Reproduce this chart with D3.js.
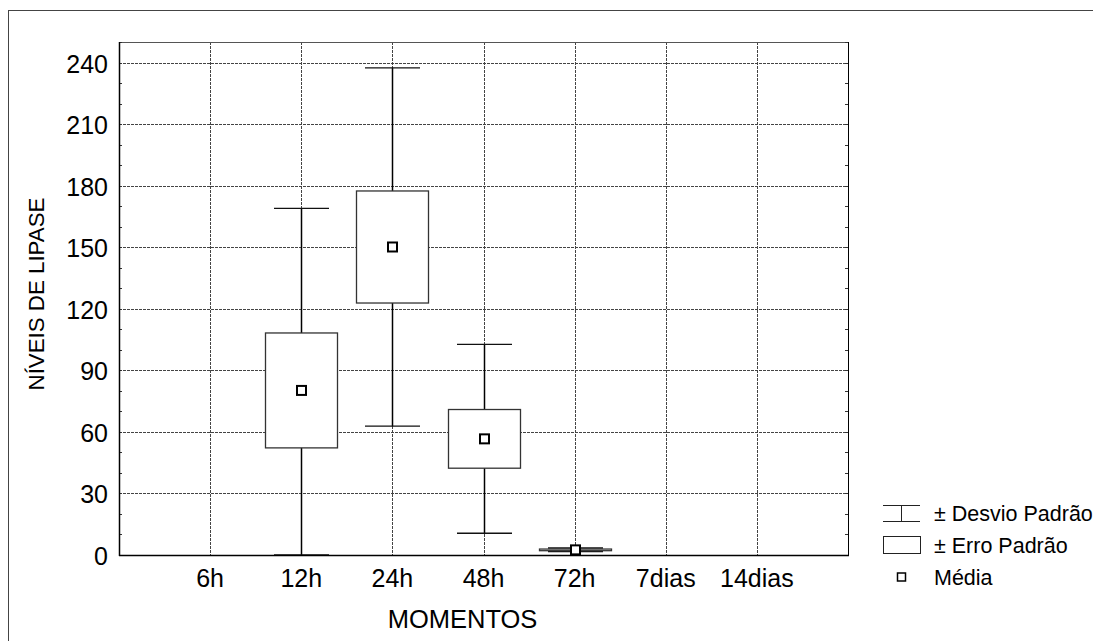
<!DOCTYPE html>
<html>
<head>
<meta charset="utf-8">
<script src="https://cdn.jsdelivr.net/npm/d3@7"></script>
<style>
  html, body { margin: 0; padding: 0; background: #fff; }
  svg { display: block; font-family: "Liberation Sans", Arial, sans-serif; }
</style>
</head>
<body>
<svg id="chart" width="1093" height="641"></svg>
<script>
// ---- data ----
const categories = ["6h", "12h", "24h", "48h", "72h", "7dias", "14dias"];
const means  = [null, 80.2, 150.1, 56.6, 2.5, null, null];
const stdErr = [null, 28.0, 27.3, 14.3, 0.4, null, null];
const stdDev = [null, 88.7, 87.3, 46.0, 0.9, null, null];
const yTicks = [0, 30, 60, 90, 120, 150, 180, 210, 240];
const yMinorTicks = d3.range(0, 251, 10);
const legendLabels = ["± Desvio Padrão", "± Erro Padrão", "Média"];
const xTitle = "MOMENTOS";
const yTitle = "NÍVEIS DE LIPASE";

// ---- layout ----
const svg = d3.select("#chart");
const plot = { left: 119, right: 848, top: 42, bottom: 555 };

const x = d3.scalePoint().domain(categories).range([plot.left, plot.right]).padding(1);
const y = d3.scaleLinear().domain([0, 250]).range([plot.bottom, plot.top]).clamp(true);

// outer frame
svg.append("rect")
  .attr("x", 8.5).attr("y", 10.5).attr("width", 1200).attr("height", 800)
  .attr("fill", "none").attr("stroke", "#444").attr("stroke-width", 1);

// gridlines
const grid = svg.append("g");
grid.selectAll("line.h").data(yTicks.filter(d => d > 0)).join("line")
  .attr("x1", plot.left).attr("x2", plot.right)
  .attr("y1", d => Math.round(y(d)) + 0.5).attr("y2", d => Math.round(y(d)) + 0.5)
  .attr("stroke", "#444").attr("stroke-dasharray", "3,1");
grid.selectAll("line.v").data(categories).join("line")
  .attr("x1", d => Math.round(x(d)) + 0.5).attr("x2", d => Math.round(x(d)) + 0.5)
  .attr("y1", plot.top).attr("y2", plot.bottom)
  .attr("stroke", "#444").attr("stroke-dasharray", "3,1");

// plot border
svg.append("line").attr("x1", plot.left).attr("x2", plot.right)
  .attr("y1", plot.top + 0.5).attr("y2", plot.top + 0.5).attr("stroke", "#555");
svg.append("line").attr("x1", plot.right + 0.5).attr("x2", plot.right + 0.5)
  .attr("y1", plot.top).attr("y2", plot.bottom).attr("stroke", "#000");

// minor ticks (inside, both sides)
const minor = svg.append("g").attr("stroke", "#333");
minor.selectAll("line.l").data(yMinorTicks).join("line")
  .attr("x1", plot.left).attr("x2", plot.left + 3)
  .attr("y1", d => Math.round(y(d)) + 0.5).attr("y2", d => Math.round(y(d)) + 0.5);
minor.selectAll("line.r").data(yMinorTicks).join("line")
  .attr("x1", plot.right - 3).attr("x2", plot.right)
  .attr("y1", d => Math.round(y(d)) + 0.5).attr("y2", d => Math.round(y(d)) + 0.5);

// boxes
const items = categories.map((c, i) => ({ c, m: means[i], se: stdErr[i], sd: stdDev[i] }))
  .filter(d => d.m !== null);
const boxW = 72, capW = 55, meanS = 9;
const g = svg.append("g");
items.forEach(d => {
  const cx = Math.round(x(d.c)) + 0.5;
  g.append("line").attr("x1", cx).attr("x2", cx)
    .attr("y1", y(d.m - d.sd)).attr("y2", y(d.m + d.sd))
    .attr("stroke", "#000").attr("stroke-width", 1.5);
  [d.m - d.sd, d.m + d.sd].forEach(v => {
    g.append("line").attr("x1", cx - capW / 2).attr("x2", cx + capW / 2)
      .attr("y1", y(v)).attr("y2", y(v))
      .attr("stroke", "#111").attr("stroke-width", 1.3);
  });
  g.append("rect")
    .attr("x", cx - boxW / 2).attr("width", boxW)
    .attr("y", y(d.m + d.se)).attr("height", Math.max(0.5, y(d.m - d.se) - y(d.m + d.se)))
    .attr("fill", "#fff").attr("stroke", "#333").attr("stroke-width", 1.3);
  g.append("rect")
    .attr("x", cx - meanS / 2).attr("y", y(d.m) - meanS / 2)
    .attr("width", meanS).attr("height", meanS)
    .attr("fill", "#fff").attr("stroke", "#000").attr("stroke-width", 2);
});

// axes lines
svg.append("line").attr("x1", plot.left + 0.5).attr("x2", plot.left + 0.5)
  .attr("y1", plot.top).attr("y2", plot.bottom + 1).attr("stroke", "#000").attr("stroke-width", 1.5);
svg.append("line").attr("x1", plot.left).attr("x2", plot.right + 1)
  .attr("y1", plot.bottom + 0.5).attr("y2", plot.bottom + 0.5).attr("stroke", "#000").attr("stroke-width", 1.5);

// tick labels
svg.append("g").selectAll("text").data(yTicks).join("text")
  .attr("x", 108).attr("y", d => y(d) + 10)
  .attr("text-anchor", "end").attr("font-size", 25).attr("fill", "#000")
  .text(d => d);
svg.append("g").selectAll("text").data(categories).join("text")
  .attr("x", d => x(d)).attr("y", 587)
  .attr("text-anchor", "middle").attr("font-size", 25).attr("fill", "#000")
  .text(d => d);

// titles
svg.append("text").attr("x", 462.5).attr("y", 627.5)
  .attr("text-anchor", "middle").attr("font-size", 25.5).text(xTitle);
svg.append("text")
  .attr("transform", "translate(43.5,294) rotate(-90)")
  .attr("text-anchor", "middle").attr("font-size", 22.3).text(yTitle);

// legend
const lg = svg.append("g");
const lx0 = 883, lx1 = 920, lxc = 901.5;
lg.append("line").attr("x1", lx0).attr("x2", lx1).attr("y1", 505.5).attr("y2", 505.5).attr("stroke", "#222");
lg.append("line").attr("x1", lx0).attr("x2", lx1).attr("y1", 521.5).attr("y2", 521.5).attr("stroke", "#222");
lg.append("line").attr("x1", lxc).attr("x2", lxc).attr("y1", 505.5).attr("y2", 521.5).attr("stroke", "#222");
lg.append("rect").attr("x", lx0 + 0.5).attr("y", 536.5).attr("width", lx1 - lx0).attr("height", 17)
  .attr("fill", "#fff").attr("stroke", "#222");
lg.append("rect").attr("x", lxc - 4).attr("y", 573).attr("width", 8).attr("height", 8)
  .attr("fill", "#fff").attr("stroke", "#000").attr("stroke-width", 1.5);
const legendY = [521, 553, 585];
lg.selectAll("text").data(legendLabels).join("text")
  .attr("x", 934).attr("y", (d, i) => legendY[i])
  .attr("font-size", 21.5).attr("fill", "#000").text(d => d);
</script>
</body>
</html>
